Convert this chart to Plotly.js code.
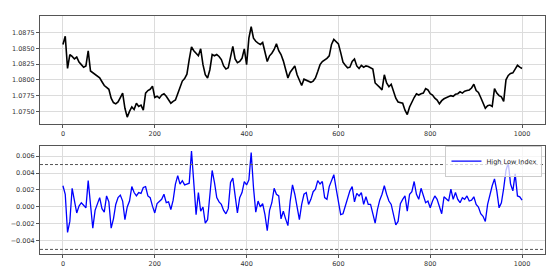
<!DOCTYPE html>
<html>
<head>
<meta charset="utf-8">
<script src="https://cdn.plot.ly/plotly-3.0.1.min.js"></script>
<style>html,body{margin:0;padding:0;background:#fff;}#chart{width:554px;height:268px;}</style>
</head>
<body>
<div id="chart"></div>
<script>
// sample step along the x index
const STEP = 5;
// Close price, sampled every 5 bars (0..1000)
const price = [
1.0856,1.0869,1.0818,1.0840,1.0837,1.0833,1.0836,1.0828,1.0824,1.0820,
1.0822,1.0846,1.0814,1.0811,1.0809,1.0806,1.0803,1.0797,1.0791,1.0788,
1.0785,1.0771,1.0764,1.0762,1.0765,1.0772,1.0779,1.0755,1.0741,1.0750,
1.0757,1.0753,1.0763,1.0758,1.0760,1.0752,1.0779,1.0783,1.0785,1.0790,
1.0772,1.0774,1.0771,1.0776,1.0778,1.0774,1.0769,1.0763,1.0766,1.0768,
1.0778,1.0790,1.0798,1.0802,1.0809,1.0832,1.0852,1.0846,1.0841,1.0838,
1.0849,1.0824,1.0808,1.0803,1.0816,1.0840,1.0838,1.0840,1.0837,1.0832,
1.0822,1.0817,1.0819,1.0836,1.0853,1.0833,1.0827,1.0829,1.0834,1.0849,
1.0824,1.0866,1.0884,1.0866,1.0861,1.0858,1.0856,1.0859,1.0845,1.0829,
1.0838,1.0842,1.0848,1.0857,1.0846,1.0840,1.0830,1.0815,1.0803,1.0812,
1.0818,1.0822,1.0808,1.0799,1.0791,1.0801,1.0799,1.0797,1.0796,1.0798,
1.0803,1.0813,1.0824,1.0829,1.0831,1.0834,1.0838,1.0856,1.0864,1.0860,
1.0857,1.0843,1.0828,1.0823,1.0819,1.0820,1.0829,1.0833,1.0822,1.0818,
1.0823,1.0820,1.0822,1.0821,1.0819,1.0817,1.0795,1.0792,1.0788,1.0784,
1.0808,1.0795,1.0789,1.0793,1.0782,1.0771,1.0765,1.0764,1.0763,1.0752,
1.0745,1.0757,1.0765,1.0772,1.0778,1.0776,1.0778,1.0779,1.0786,1.0784,
1.0778,1.0776,1.0771,1.0768,1.0762,1.0767,1.0770,1.0772,1.0774,1.0775,
1.0774,1.0777,1.0778,1.0781,1.0779,1.0782,1.0783,1.0784,1.0787,1.0793,
1.0783,1.0780,1.0772,1.0763,1.0755,1.0759,1.0760,1.0758,1.0786,1.0779,
1.0775,1.0773,1.0766,1.0800,1.0807,1.0810,1.0811,1.0817,1.0823,1.0820,
1.0818
];
// High Low Index, sampled every 5 bars (0..1000)
const hli = [
0.0025,0.0015,-0.0030,-0.0017,0.0022,0.0005,-0.0007,0.0001,0.0005,0.0002,
-0.0001,0.0031,0.0006,-0.0025,-0.0004,0.0004,0.0011,-0.0002,-0.0006,0.0013,
0.0006,-0.0025,-0.0014,0.0003,0.0011,0.0014,0.0007,-0.0015,0.0000,0.0007,
0.0024,0.0017,0.0013,0.0017,0.0016,0.0023,0.0024,0.0013,0.0011,0.0001,
-0.0007,0.0004,0.0007,0.0009,0.0015,0.0005,0.0006,-0.0003,0.0008,0.0027,
0.0037,0.0027,0.0031,0.0026,0.0027,0.0028,0.0066,0.0023,-0.0009,0.0017,
-0.0005,0.0000,-0.0019,-0.0015,0.0017,0.0043,0.0029,0.0011,0.0006,0.0003,
-0.0004,-0.0008,-0.0002,0.0029,0.0034,0.0011,-0.0007,0.0011,0.0017,0.0030,
0.0026,0.0032,0.0064,0.0023,-0.0006,0.0007,0.0000,0.0004,-0.0009,-0.0028,
-0.0004,0.0005,0.0022,0.0015,0.0013,-0.0014,-0.0005,-0.0014,-0.0022,0.0007,
0.0026,0.0015,0.0001,-0.0015,0.0003,0.0015,0.0017,0.0003,0.0009,0.0018,
0.0021,0.0031,0.0027,0.0030,0.0011,0.0009,0.0024,0.0032,0.0038,0.0022,
0.0005,-0.0009,-0.0008,0.0001,0.0009,0.0019,0.0024,0.0006,0.0016,0.0013,
0.0017,0.0003,0.0012,0.0003,0.0003,-0.0009,-0.0019,-0.0003,0.0008,0.0015,
0.0025,0.0015,0.0007,0.0003,-0.0011,-0.0021,-0.0017,0.0004,0.0009,0.0013,
-0.0005,0.0015,0.0018,0.0030,0.0015,0.0009,0.0022,0.0014,0.0005,0.0007,
-0.0001,0.0007,0.0013,0.0009,0.0001,-0.0008,0.0012,0.0009,0.0007,0.0021,
0.0009,0.0017,0.0009,0.0005,0.0011,0.0009,0.0013,0.0007,0.0008,0.0012,
0.0003,0.0000,-0.0008,-0.0011,-0.0017,0.0003,0.0015,0.0025,0.0033,0.0019,
-0.0001,0.0005,0.0022,0.0043,0.0052,0.0027,0.0019,0.0039,0.0013,0.0012,
0.0008
];
const thresholds = [0.005, -0.005];
const xTicks = [0, 200, 400, 600, 800, 1000];
const priceTicks = [1.075, 1.0775, 1.08, 1.0825, 1.085, 1.0875];
const hliTicks = [-0.004, -0.002, 0, 0.002, 0.004, 0.006];
const seriesName = "High Low Index";

const tickFont = {family: "DejaVu Sans", size: 6.5, color: "#333"};
const axisBase = {
  showline: true, mirror: true, linecolor: "#555", linewidth: 1,
  showgrid: true, gridcolor: "#dcdcdc", gridwidth: 1,
  zeroline: false, ticks: "outside", ticklen: 3, tickcolor: "#555",
  tickfont: tickFont
};

const traces = [
  {x0: 0, dx: STEP, y: price, type: "scatter", mode: "lines",
   line: {color: "#000", width: 1.6}, xaxis: "x", yaxis: "y", showlegend: false},
  {x0: 0, dx: STEP, y: hli, type: "scatter", mode: "lines", name: seriesName,
   line: {color: "#0000ff", width: 1.3}, xaxis: "x2", yaxis: "y2", showlegend: true}
];

const layout = {
  width: 554, height: 268,
  margin: {l: 40, r: 9, t: 16, b: 14},
  paper_bgcolor: "#fff", plot_bgcolor: "#fff",
  font: {family: "DejaVu Sans"},
  xaxis: Object.assign({}, axisBase, {domain: [0, 1], anchor: "y", range: [-50, 1050], tickvals: xTicks}),
  yaxis: Object.assign({}, axisBase, {domain: [0.546, 1], anchor: "x", range: [1.0730, 1.0901], tickvals: priceTicks, tickformat: ".4f"}),
  xaxis2: Object.assign({}, axisBase, {domain: [0, 1], anchor: "y2", range: [-50, 1050], tickvals: xTicks}),
  yaxis2: Object.assign({}, axisBase, {domain: [0, 0.454], anchor: "x2", range: [-0.00554, 0.00719], tickvals: hliTicks, tickformat: ".3f"}),
  shapes: thresholds.map(v => ({type: "line", xref: "x2 domain", x0: 0, x1: 1, yref: "y2", y0: v, y1: v,
    line: {color: "#555", width: 1, dash: "3px,2px"}})),
  showlegend: true,
  legend: {x: 0.995, xanchor: "right", y: 0.455, yanchor: "top", bgcolor: "rgba(255,255,255,0.75)",
    bordercolor: "#ccc", borderwidth: 1, font: {family: "DejaVu Sans", size: 6.5, color: "#222"},
    itemwidth: 30, tracegroupgap: 0}
};

Plotly.newPlot("chart", traces, layout, {displayModeBar: false, staticPlot: true});
</script>
</body>
</html>
